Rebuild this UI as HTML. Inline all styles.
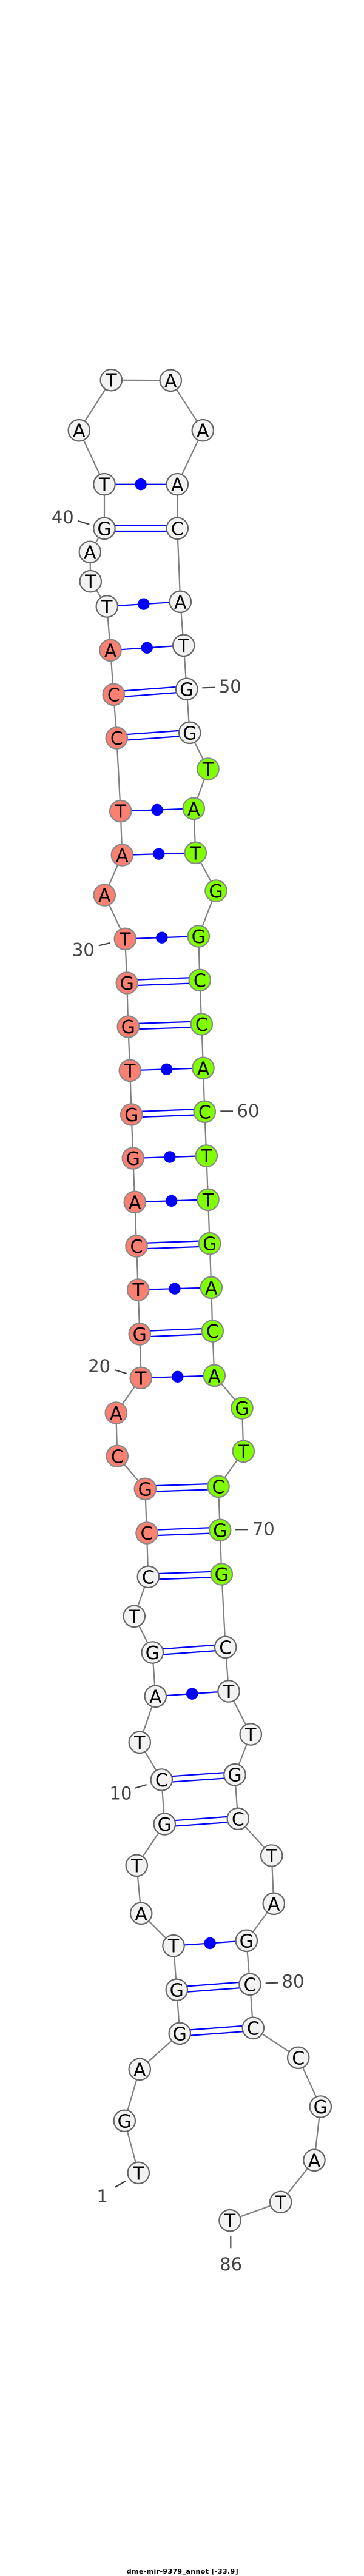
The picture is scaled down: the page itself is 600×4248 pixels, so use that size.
<!DOCTYPE html>
<html><head><meta charset="utf-8"><style>
html,body{margin:0;padding:0;background:#fff}
svg{display:block}
.b{fill:none;stroke:#808080;stroke-width:2.2}
.p{stroke:#0000ff;stroke-width:2.2}
.d{fill:#0000ff}
.t{stroke:#444;stroke-width:2.2}
.w{fill:#f2f2f2;stroke:#666;stroke-width:2.2}
.s{fill:#fa8072;stroke:#888;stroke-width:2.2}
.g{fill:#7fff00;stroke:#888;stroke-width:2.2}
.n text,text.n{font:30px "DejaVu Sans",sans-serif;text-anchor:middle;fill:#000}
.l{font:29px "DejaVu Sans",sans-serif;text-anchor:middle;fill:#444}
</style></head><body>
<svg xmlns="http://www.w3.org/2000/svg" width="600" height="4248" viewBox="0 0 600 4248">
<polyline class="b" points="228.3,3583.3 205.3,3497.3 230.3,3412.3 296.3,3353.3 291.3,3281.3 286,3208.7 232.7,3155.3 225.3,3076.3 271.3,3008 266.3,2935 230.3,2873.3 256.3,2797.3 251.3,2725 221.3,2665.3 244.3,2600.3 242,2528 239.3,2455.3 193.3,2401.3 191.3,2330 232.3,2272.3 230.3,2200 227.7,2127 225,2055 222.3,1982.3 219.3,1910 216.7,1838 214.3,1765.3 211.3,1693 209.3,1621 206.3,1548.3 172.3,1476 201.3,1410 198.7,1337.7 192.3,1217 187.3,1145.3 182,1072.3 176.3,1000 149.3,958.7 148.3,910.3 172,871.3 172,798.7 130.3,709.7 183.3,626.7 281.3,627.3 334.3,709.7 292.3,798.7 292.3,871.3 297.3,992.3 302.7,1064.3 307.7,1136.3 312.7,1208.3 343,1268 319.3,1333.3 322.3,1406.3 356,1469 327.3,1544 329.3,1616.3 332.3,1689 335,1761.3 337.3,1833.3 340.3,1906 343,1978.3 345.7,2050.7 348.3,2123.3 350.3,2195 353.3,2268.3 399,2322 401.3,2393.3 360,2451.3 362.7,2523.3 365.3,2596 371.7,2716.3 377,2789 413.3,2860 387,2926.7 392.3,2999.3 447.7,3060 451.3,3139.3 406.3,3200.3 412,3272.3 417.3,3344.3 491.7,3393.3 528.3,3474 518,3562.3 462.7,3631.3 379,3661.7"/>
<g class="p">
<line x1="172" y1="866.6" x2="292.3" y2="866.6"/><line x1="172" y1="876" x2="292.3" y2="876"/>
<line x1="187.3" y1="1140.6" x2="307.7" y2="1131.6"/><line x1="187.3" y1="1150" x2="307.7" y2="1141"/>
<line x1="192.3" y1="1212.3" x2="312.7" y2="1203.6"/><line x1="192.3" y1="1221.7" x2="312.7" y2="1213"/>
<line x1="209.3" y1="1616.3" x2="329.3" y2="1611.6"/><line x1="209.3" y1="1625.7" x2="329.3" y2="1621"/>
<line x1="211.3" y1="1688.3" x2="332.3" y2="1684.3"/><line x1="211.3" y1="1697.7" x2="332.3" y2="1693.7"/>
<line x1="216.7" y1="1833.3" x2="337.3" y2="1828.6"/><line x1="216.7" y1="1842.7" x2="337.3" y2="1838"/>
<line x1="225" y1="2050.3" x2="345.7" y2="2046"/><line x1="225" y1="2059.7" x2="345.7" y2="2055.4"/>
<line x1="230.3" y1="2195.3" x2="350.3" y2="2190.3"/><line x1="230.3" y1="2204.7" x2="350.3" y2="2199.7"/>
<line x1="239.3" y1="2450.6" x2="360" y2="2446.6"/><line x1="239.3" y1="2460" x2="360" y2="2456"/>
<line x1="242" y1="2523.3" x2="362.7" y2="2518.6"/><line x1="242" y1="2532.7" x2="362.7" y2="2528"/>
<line x1="244.3" y1="2595.6" x2="365.3" y2="2591.3"/><line x1="244.3" y1="2605" x2="365.3" y2="2600.7"/>
<line x1="251.3" y1="2720.3" x2="371.7" y2="2711.6"/><line x1="251.3" y1="2729.7" x2="371.7" y2="2721"/>
<line x1="266.3" y1="2930.3" x2="387" y2="2922"/><line x1="266.3" y1="2939.7" x2="387" y2="2931.4"/>
<line x1="271.3" y1="3003.3" x2="392.3" y2="2994.6"/><line x1="271.3" y1="3012.7" x2="392.3" y2="3004"/>
<line x1="291.3" y1="3276.6" x2="412" y2="3267.6"/><line x1="291.3" y1="3286" x2="412" y2="3277"/>
<line x1="296.3" y1="3348.6" x2="417.3" y2="3339.6"/><line x1="296.3" y1="3358" x2="417.3" y2="3349"/>
<line x1="172" y1="798.7" x2="292.3" y2="798.7"/>
<line x1="176.3" y1="1000" x2="297.3" y2="992.3"/>
<line x1="182" y1="1072.3" x2="302.7" y2="1064.3"/>
<line x1="198.7" y1="1337.7" x2="319.3" y2="1333.3"/>
<line x1="201.3" y1="1410" x2="322.3" y2="1406.3"/>
<line x1="206.3" y1="1548.3" x2="327.3" y2="1544"/>
<line x1="214.3" y1="1765.3" x2="335" y2="1761.3"/>
<line x1="219.3" y1="1910" x2="340.3" y2="1906"/>
<line x1="222.3" y1="1982.3" x2="343" y2="1978.3"/>
<line x1="227.7" y1="2127" x2="348.3" y2="2123.3"/>
<line x1="232.3" y1="2272.3" x2="353.3" y2="2268.3"/>
<line x1="256.3" y1="2797.3" x2="377" y2="2789"/>
<line x1="286" y1="3208.7" x2="406.3" y2="3200.3"/>
</g>
<g class="d">
<circle cx="232.2" cy="798.7" r="9.7"/><circle cx="236.8" cy="996.2" r="9.7"/><circle cx="242.3" cy="1068.3" r="9.7"/><circle cx="259" cy="1335.5" r="9.7"/><circle cx="261.8" cy="1408.2" r="9.7"/><circle cx="266.8" cy="1546.2" r="9.7"/><circle cx="274.7" cy="1763.3" r="9.7"/><circle cx="279.8" cy="1908" r="9.7"/><circle cx="282.7" cy="1980.3" r="9.7"/><circle cx="288" cy="2125.2" r="9.7"/><circle cx="292.8" cy="2270.3" r="9.7"/><circle cx="316.7" cy="2793.2" r="9.7"/><circle cx="346.2" cy="3204.5" r="9.7"/>
</g>
<g class="t">
<line x1="128.7" y1="859" x2="147.3" y2="864.7"/>
<line x1="333.3" y1="1134.3" x2="354" y2="1133.7"/>
<line x1="162.7" y1="1559.3" x2="181.7" y2="1555"/>
<line x1="363.3" y1="1832.3" x2="384" y2="1832.3"/>
<line x1="188.7" y1="2259" x2="208.7" y2="2265"/>
<line x1="388" y1="2522.3" x2="408.7" y2="2522.3"/>
<line x1="222.7" y1="2948.7" x2="241.7" y2="2943"/>
<line x1="437.7" y1="3270.3" x2="458" y2="3269.7"/>
<line x1="190" y1="3606.7" x2="206.7" y2="3597"/>
<line x1="380.3" y1="3687.3" x2="380.3" y2="3707.3"/>
</g>
<text class="l" x="103.3" y="863">40</text>
<text class="l" x="379.3" y="1142">50</text>
<text class="l" x="137.3" y="1576.5">30</text>
<text class="l" x="409" y="1842">60</text>
<text class="l" x="163.7" y="2263">20</text>
<text class="l" x="434.3" y="2531.5">70</text>
<text class="l" x="199" y="2967.5">10</text>
<text class="l" x="483" y="3277.5">80</text>
<text class="l" x="168.7" y="3632">1</text>
<text class="l" x="380.7" y="3744">86</text>
<g class="n">
<circle class="w" cx="228.3" cy="3583.3" r="17.7"/><text x="228.3" y="3594.3">T</text>
<circle class="w" cx="205.3" cy="3497.3" r="17.7"/><text x="205.3" y="3508.3">G</text>
<circle class="w" cx="230.3" cy="3412.3" r="17.7"/><text x="230.3" y="3423.3">A</text>
<circle class="w" cx="296.3" cy="3353.3" r="17.7"/><text x="296.3" y="3364.3">G</text>
<circle class="w" cx="291.3" cy="3281.3" r="17.7"/><text x="291.3" y="3292.3">G</text>
<circle class="w" cx="286" cy="3208.7" r="17.7"/><text x="286" y="3219.7">T</text>
<circle class="w" cx="232.7" cy="3155.3" r="17.7"/><text x="232.7" y="3166.3">A</text>
<circle class="w" cx="225.3" cy="3076.3" r="17.7"/><text x="225.3" y="3087.3">T</text>
<circle class="w" cx="271.3" cy="3008" r="17.7"/><text x="271.3" y="3019">G</text>
<circle class="w" cx="266.3" cy="2935" r="17.7"/><text x="266.3" y="2946">C</text>
<circle class="w" cx="230.3" cy="2873.3" r="17.7"/><text x="230.3" y="2884.3">T</text>
<circle class="w" cx="256.3" cy="2797.3" r="17.7"/><text x="256.3" y="2808.3">A</text>
<circle class="w" cx="251.3" cy="2725" r="17.7"/><text x="251.3" y="2736">G</text>
<circle class="w" cx="221.3" cy="2665.3" r="17.7"/><text x="221.3" y="2676.3">T</text>
<circle class="w" cx="244.3" cy="2600.3" r="17.7"/><text x="244.3" y="2611.3">C</text>
<circle class="s" cx="242" cy="2528" r="17.7"/><text x="242" y="2539">C</text>
<circle class="s" cx="239.3" cy="2455.3" r="17.7"/><text x="239.3" y="2466.3">G</text>
<circle class="s" cx="193.3" cy="2401.3" r="17.7"/><text x="193.3" y="2412.3">C</text>
<circle class="s" cx="191.3" cy="2330" r="17.7"/><text x="191.3" y="2341">A</text>
<circle class="s" cx="232.3" cy="2272.3" r="17.7"/><text x="232.3" y="2283.3">T</text>
<circle class="s" cx="230.3" cy="2200" r="17.7"/><text x="230.3" y="2211">G</text>
<circle class="s" cx="227.7" cy="2127" r="17.7"/><text x="227.7" y="2138">T</text>
<circle class="s" cx="225" cy="2055" r="17.7"/><text x="225" y="2066">C</text>
<circle class="s" cx="222.3" cy="1982.3" r="17.7"/><text x="222.3" y="1993.3">A</text>
<circle class="s" cx="219.3" cy="1910" r="17.7"/><text x="219.3" y="1921">G</text>
<circle class="s" cx="216.7" cy="1838" r="17.7"/><text x="216.7" y="1849">G</text>
<circle class="s" cx="214.3" cy="1765.3" r="17.7"/><text x="214.3" y="1776.3">T</text>
<circle class="s" cx="211.3" cy="1693" r="17.7"/><text x="211.3" y="1704">G</text>
<circle class="s" cx="209.3" cy="1621" r="17.7"/><text x="209.3" y="1632">G</text>
<circle class="s" cx="206.3" cy="1548.3" r="17.7"/><text x="206.3" y="1559.3">T</text>
<circle class="s" cx="172.3" cy="1476" r="17.7"/><text x="172.3" y="1487">A</text>
<circle class="s" cx="201.3" cy="1410" r="17.7"/><text x="201.3" y="1421">A</text>
<circle class="s" cx="198.7" cy="1337.7" r="17.7"/><text x="198.7" y="1348.7">T</text>
<circle class="s" cx="192.3" cy="1217" r="17.7"/><text x="192.3" y="1228">C</text>
<circle class="s" cx="187.3" cy="1145.3" r="17.7"/><text x="187.3" y="1156.3">C</text>
<circle class="s" cx="182" cy="1072.3" r="17.7"/><text x="182" y="1083.3">A</text>
<circle class="w" cx="176.3" cy="1000" r="17.7"/><text x="176.3" y="1011">T</text>
<circle class="w" cx="149.3" cy="958.7" r="17.7"/><text x="149.3" y="969.7">T</text>
<circle class="w" cx="148.3" cy="910.3" r="17.7"/><text x="148.3" y="921.3">A</text>
<circle class="w" cx="172" cy="871.3" r="17.7"/><text x="172" y="882.3">G</text>
<circle class="w" cx="172" cy="798.7" r="17.7"/><text x="172" y="809.7">T</text>
<circle class="w" cx="130.3" cy="709.7" r="17.7"/><text x="130.3" y="720.7">A</text>
<circle class="w" cx="183.3" cy="626.7" r="17.7"/><text x="183.3" y="637.7">T</text>
<circle class="w" cx="281.3" cy="627.3" r="17.7"/><text x="281.3" y="638.3">A</text>
<circle class="w" cx="334.3" cy="709.7" r="17.7"/><text x="334.3" y="720.7">A</text>
<circle class="w" cx="292.3" cy="798.7" r="17.7"/><text x="292.3" y="809.7">A</text>
<circle class="w" cx="292.3" cy="871.3" r="17.7"/><text x="292.3" y="882.3">C</text>
<circle class="w" cx="297.3" cy="992.3" r="17.7"/><text x="297.3" y="1003.3">A</text>
<circle class="w" cx="302.7" cy="1064.3" r="17.7"/><text x="302.7" y="1075.3">T</text>
<circle class="w" cx="307.7" cy="1136.3" r="17.7"/><text x="307.7" y="1147.3">G</text>
<circle class="w" cx="312.7" cy="1208.3" r="17.7"/><text x="312.7" y="1219.3">G</text>
<circle class="g" cx="343" cy="1268" r="17.7"/><text x="343" y="1279">T</text>
<circle class="g" cx="319.3" cy="1333.3" r="17.7"/><text x="319.3" y="1344.3">A</text>
<circle class="g" cx="322.3" cy="1406.3" r="17.7"/><text x="322.3" y="1417.3">T</text>
<circle class="g" cx="356" cy="1469" r="17.7"/><text x="356" y="1480">G</text>
<circle class="g" cx="327.3" cy="1544" r="17.7"/><text x="327.3" y="1555">G</text>
<circle class="g" cx="329.3" cy="1616.3" r="17.7"/><text x="329.3" y="1627.3">C</text>
<circle class="g" cx="332.3" cy="1689" r="17.7"/><text x="332.3" y="1700">C</text>
<circle class="g" cx="335" cy="1761.3" r="17.7"/><text x="335" y="1772.3">A</text>
<circle class="g" cx="337.3" cy="1833.3" r="17.7"/><text x="337.3" y="1844.3">C</text>
<circle class="g" cx="340.3" cy="1906" r="17.7"/><text x="340.3" y="1917">T</text>
<circle class="g" cx="343" cy="1978.3" r="17.7"/><text x="343" y="1989.3">T</text>
<circle class="g" cx="345.7" cy="2050.7" r="17.7"/><text x="345.7" y="2061.7">G</text>
<circle class="g" cx="348.3" cy="2123.3" r="17.7"/><text x="348.3" y="2134.3">A</text>
<circle class="g" cx="350.3" cy="2195" r="17.7"/><text x="350.3" y="2206">C</text>
<circle class="g" cx="353.3" cy="2268.3" r="17.7"/><text x="353.3" y="2279.3">A</text>
<circle class="g" cx="399" cy="2322" r="17.7"/><text x="399" y="2333">G</text>
<circle class="g" cx="401.3" cy="2393.3" r="17.7"/><text x="401.3" y="2404.3">T</text>
<circle class="g" cx="360" cy="2451.3" r="17.7"/><text x="360" y="2462.3">C</text>
<circle class="g" cx="362.7" cy="2523.3" r="17.7"/><text x="362.7" y="2534.3">G</text>
<circle class="g" cx="365.3" cy="2596" r="17.7"/><text x="365.3" y="2607">G</text>
<circle class="w" cx="371.7" cy="2716.3" r="17.7"/><text x="371.7" y="2727.3">C</text>
<circle class="w" cx="377" cy="2789" r="17.7"/><text x="377" y="2800">T</text>
<circle class="w" cx="413.3" cy="2860" r="17.7"/><text x="413.3" y="2871">T</text>
<circle class="w" cx="387" cy="2926.7" r="17.7"/><text x="387" y="2937.7">G</text>
<circle class="w" cx="392.3" cy="2999.3" r="17.7"/><text x="392.3" y="3010.3">C</text>
<circle class="w" cx="447.7" cy="3060" r="17.7"/><text x="447.7" y="3071">T</text>
<circle class="w" cx="451.3" cy="3139.3" r="17.7"/><text x="451.3" y="3150.3">A</text>
<circle class="w" cx="406.3" cy="3200.3" r="17.7"/><text x="406.3" y="3211.3">G</text>
<circle class="w" cx="412" cy="3272.3" r="17.7"/><text x="412" y="3283.3">C</text>
<circle class="w" cx="417.3" cy="3344.3" r="17.7"/><text x="417.3" y="3355.3">C</text>
<circle class="w" cx="491.7" cy="3393.3" r="17.7"/><text x="491.7" y="3404.3">C</text>
<circle class="w" cx="528.3" cy="3474" r="17.7"/><text x="528.3" y="3485">G</text>
<circle class="w" cx="518" cy="3562.3" r="17.7"/><text x="518" y="3573.3">A</text>
<circle class="w" cx="462.7" cy="3631.3" r="17.7"/><text x="462.7" y="3642.3">T</text>
<circle class="w" cx="379" cy="3661.7" r="17.7"/><text x="379" y="3672.7">T</text>
</g>
<text x="208.7" y="4244" textLength="184" lengthAdjust="spacing" style="font:bold 11px 'DejaVu Sans',sans-serif;fill:#000">dme-mir-9379_annot [-33.9]</text>
</svg>
</body></html>
